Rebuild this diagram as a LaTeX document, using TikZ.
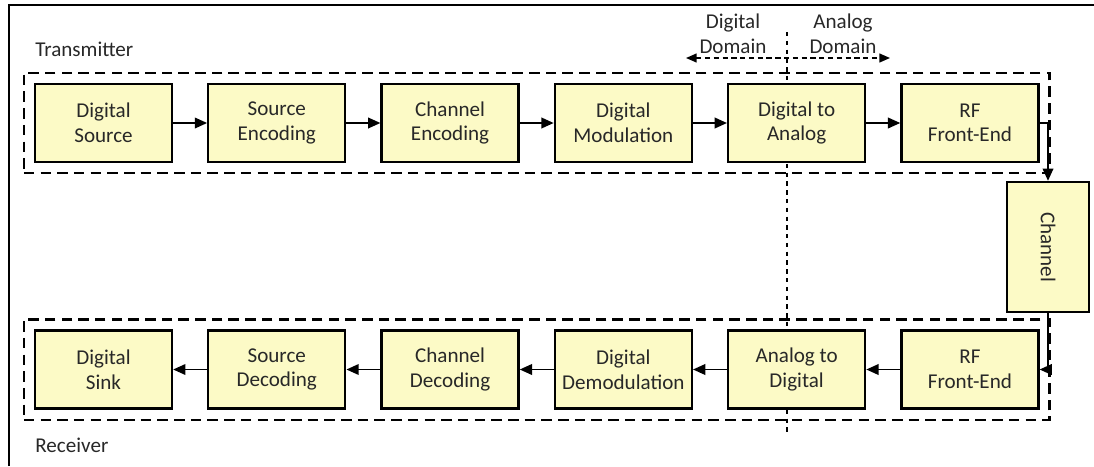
\documentclass[tikz,border=0pt]{standalone}
\usepackage{fontspec}
\setmainfont{Carlito}
\usepackage{tikz}
\usetikzlibrary{arrows.meta,positioning,fit}
\definecolor{boxyellow}{RGB}{252,250,198}
\definecolor{txtgrey}{RGB}{40,40,40}
\newcommand{\conn}[2]{\draw[link] (#1) -- (#2)}

\tikzset{
  blk/.style={draw,line width=1.3pt,fill=boxyellow,minimum width=2.74cm,minimum height=1.56cm,
    align=center,text=txtgrey,font=\fontsize{12}{14}\selectfont,inner sep=0pt},
  link/.style={line width=1.1pt,-{Triangle[length=7pt,width=6pt]}},
  group/.style={draw,line width=1.3pt,dash pattern=on 6pt off 3.5pt,inner sep=0.2cm},
  lbl/.style={text=txtgrey,font=\fontsize{12}{14}\selectfont,inner sep=0pt}
}

\begin{document}
\begin{tikzpicture}
    \useasboundingbox (0,0) rectangle (21.88,-9.32);
    \draw [line width=0.8pt] (0.18,-9.32) -- (0.18,-0.1) -- (21.88,-0.1);
    % domain split, drawn first so the blocks hide it
    \coordinate (divtop) at (15.74,-0.64);
    \coordinate (divbot) at (15.74,-8.66);
    \draw [line width=0.7pt,dash pattern=on 2.5pt off 2.5pt] (divtop) -- (divbot);
    \coordinate (dleft) at (13.72,-1.16);
    \coordinate (aright) at (17.8,-1.16);
    \draw [line width=0.9pt,dash pattern=on 3pt off 2pt,{Triangle[length=6pt,width=5pt]}-{Triangle[length=6pt,width=5pt]}] (dleft) -- (aright);
    \node[lbl,align=center] (ddom) at (14.66,-0.67) {Digital\\Domain};
    \node[lbl,align=center] (adom) at (16.86,-0.67) {Analog\\Domain};
    % transmitter chain
    \node[blk] (dsrc) at (2.07,-2.46) {Digital\\Source};
    \node[blk,right=0.68cm of dsrc] (senc) {Source\\Encoding};
    \node[blk,right=0.68cm of senc] (cenc) {Channel\\Encoding};
    \node[blk,right=0.68cm of cenc] (dmod) {Digital\\Modulation};
    \node[blk,right=0.68cm of dmod] (dac) {Digital to\\Analog};
    \node[blk,right=0.68cm of dac] (rftx) {RF\\Front-End};
    % receiver chain
    \node[blk] (dsink) at (2.07,-7.39) {Digital\\Sink};
    \node[blk,right=0.68cm of dsink] (sdec) {Source\\Decoding};
    \node[blk,right=0.68cm of sdec] (cdec) {Channel\\Decoding};
    \node[blk,right=0.68cm of cdec] (ddem) {Digital\\Demodulation};
    \node[blk,right=0.68cm of ddem] (adc) {Analog to\\Digital};
    \node[blk,right=0.68cm of adc] (rfrx) {RF\\Front-End};
    \node[blk,minimum width=2.6cm,minimum height=1.64cm,rotate=-90] (chan) at (20.96,-4.94) {Channel};
    \node[group,fit=(dsrc)(rftx)] (txgrp) {};
    \node[group,fit=(dsink)(rfrx)] (rxgrp) {};
    \node[lbl,anchor=west] (txlbl) at (0.7,-0.98) {Transmitter};
    \node[lbl,anchor=west] (rxlbl) at (0.7,-8.9) {Receiver};
    % links
    \conn{dsrc}{senc};
    \conn{senc}{cenc};
    \conn{cenc}{dmod};
    \conn{dmod}{dac};
    \conn{dac}{rftx};
    \draw[link] (rftx.east) -| (chan.west);
    \draw[link] (chan.east) |- (rfrx.east);
    \conn{rfrx}{adc};
    \conn{adc}{ddem};
    \conn{ddem}{cdec};
    \conn{cdec}{sdec};
    \conn{sdec}{dsink};
\end{tikzpicture}
\end{document}
